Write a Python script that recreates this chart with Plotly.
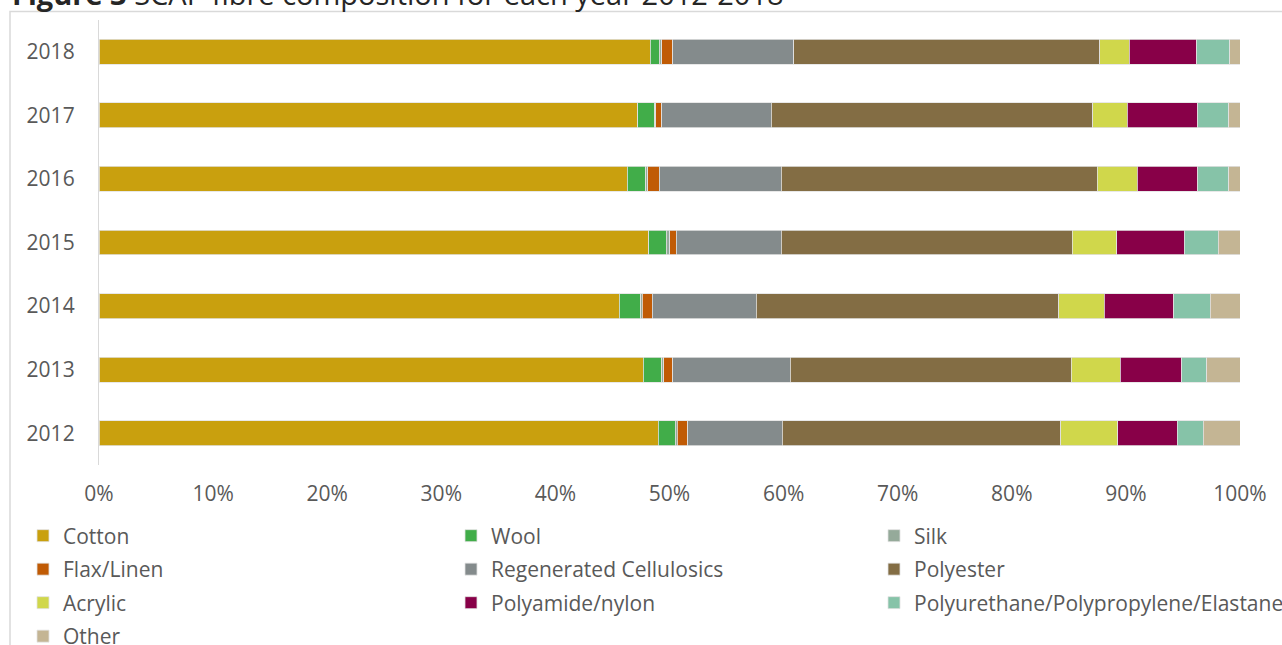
import plotly.graph_objects as go

# Fibre composition (% of total) by year
years = ["2012", "2013", "2014", "2015", "2016", "2017", "2018"]

cotton      = [49.0, 47.7, 45.6, 48.2, 46.3, 47.2, 48.3]
wool        = [1.5, 1.6, 1.9, 1.5, 1.6, 1.5, 0.8]
silk        = [0.2, 0.2, 0.1, 0.3, 0.2, 0.1, 0.2]
flax_linen  = [0.9, 0.8, 0.9, 0.6, 1.0, 0.5, 1.0]
regenerated = [8.3, 10.3, 9.1, 9.2, 10.7, 9.6, 10.6]
polyester   = [24.4, 24.6, 26.5, 25.5, 27.7, 28.2, 26.8]
acrylic     = [5.0, 4.3, 4.0, 3.9, 3.5, 3.0, 2.6]
polyamide   = [5.2, 5.4, 6.1, 5.9, 5.3, 6.2, 5.9]
elastane    = [2.3, 2.2, 3.2, 3.0, 2.7, 2.7, 2.9]
other       = [3.2, 2.9, 2.6, 1.9, 1.0, 1.0, 0.9]

x_ticks = [0, 10, 20, 30, 40, 50, 60, 70, 80, 90, 100]
x_tick_text = [f"{v}%" for v in x_ticks]

series = [
    ("Cotton", cotton, "#C9A00E"),
    ("Wool", wool, "#41AD49"),
    ("Silk", silk, "#95AA9A"),
    ("Flax/Linen", flax_linen, "#C05B05"),
    ("Regenerated Cellulosics", regenerated, "#848B8C"),
    ("Polyester", polyester, "#836D44"),
    ("Acrylic", acrylic, "#D0D74B"),
    ("Polyamide/nylon", polyamide, "#880048"),
    ("Polyurethane/Polypropylene/Elastane", elastane, "#86C3A8"),
    ("Other", other, "#C4B594"),
]

FONT = "Open Sans"
GREY = "#595959"

# plot area: x 99..1240 px, y 20..465 px
PW, PH = 1141.0, 445.0
def px_x(px):
    return (px - 99) / PW
def px_y(py):
    return (465 - py) / PH

# legend grid: three columns, rows filled left to right
col_px = [23, 451, 874]
row_px = [536, 569.5, 603, 636.5]

fig = go.Figure()
legends = {}
for i, (name, values, color) in enumerate(series):
    key = "legend" if i == 0 else f"legend{i + 1}"
    fig.add_trace(go.Bar(
        name=name, y=years, x=values, orientation="h",
        marker=dict(color=color, line=dict(color="#e2e2e2", width=0.8)),
        legend=key,
    ))
    legends[key] = dict(
        x=px_x(col_px[i % 3]), y=px_y(row_px[i // 3]),
        xanchor="left", yanchor="middle",
        font=dict(family=FONT, size=21, color=GREY),
        bgcolor="rgba(0,0,0,0)", borderwidth=0,
        itemclick=False, itemdoubleclick=False,
    )

fig.update_layout(
    width=1282, height=645,
    margin=dict(l=99, r=42, t=20, b=180, autoexpand=False),
    paper_bgcolor="white", plot_bgcolor="white",
    barmode="stack", bargap=0.607,
    font=dict(family=FONT, size=21, color=GREY),
    showlegend=True,
    xaxis=dict(
        range=[0, 100], tickvals=x_ticks, ticktext=x_tick_text,
        showgrid=False, zeroline=False, showline=False,
        ticks="", ticklabelstandoff=14,
        tickfont=dict(family=FONT, size=21, color=GREY),
        fixedrange=True,
    ),
    yaxis=dict(
        type="category", categoryorder="array", categoryarray=years,
        showgrid=False, zeroline=False,
        showline=True, linecolor="#d9d9d9", linewidth=1.3,
        ticks="", ticklabelstandoff=19,
        tickfont=dict(family=FONT, size=21, color=GREY),
        fixedrange=True,
    ),
    shapes=[dict(
        type="rect", xref="paper", yref="paper",
        x0=px_x(10), x1=px_x(1300), y0=px_y(700), y1=px_y(11.5),
        line=dict(color="#d9d9d9", width=1.5), fillcolor="rgba(0,0,0,0)",
        layer="below",
    )],
    annotations=[dict(
        xref="paper", yref="paper", x=px_x(10), y=px_y(15),
        xanchor="left", yanchor="bottom", showarrow=False,
        text="<b>Figure 3</b> SCAP fibre composition for each year 2012-2018",
        font=dict(family=FONT, size=29, color="#262626"),
    )],
    **legends,
)

fig.write_html("out.html", config={"displayModeBar": False})
